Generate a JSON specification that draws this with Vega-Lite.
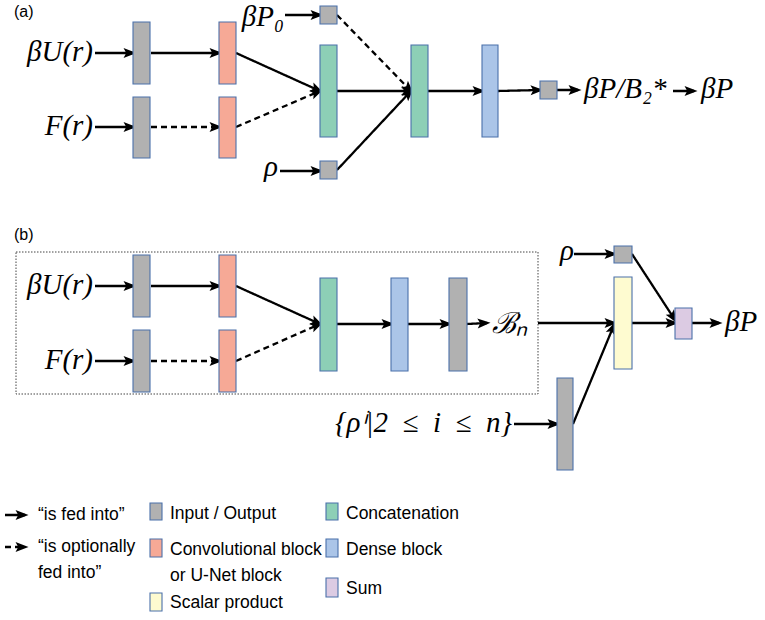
{
  "$schema": "https://vega.github.io/schema/vega-lite/v6.json",
  "width": 765,
  "height": 620,
  "padding": 0,
  "autosize": {"type": "fit", "contains": "padding"},
  "background": "white",
  "config": {"view": {"stroke": null}},
  "datasets": {
    "frame": [{"x": 16, "x2": 538, "y": 252, "y2": 394}],
    "boxes": [
      {"panel": "a", "x": 133, "x2": 150, "y": 22, "y2": 84, "kind": "io"},
      {"panel": "a", "x": 133, "x2": 150, "y": 97, "y2": 158, "kind": "io"},
      {"panel": "a", "x": 219, "x2": 236, "y": 22, "y2": 84, "kind": "conv"},
      {"panel": "a", "x": 219, "x2": 236, "y": 97, "y2": 158, "kind": "conv"},
      {"panel": "a", "x": 320, "x2": 337, "y": 6, "y2": 24, "kind": "io"},
      {"panel": "a", "x": 320, "x2": 337, "y": 45, "y2": 137, "kind": "concat"},
      {"panel": "a", "x": 320, "x2": 337, "y": 161, "y2": 179, "kind": "io"},
      {"panel": "a", "x": 411, "x2": 428, "y": 45, "y2": 137, "kind": "concat"},
      {"panel": "a", "x": 482, "x2": 498, "y": 45, "y2": 137, "kind": "dense"},
      {"panel": "a", "x": 540, "x2": 557, "y": 81, "y2": 99, "kind": "io"},
      {"panel": "b", "x": 133, "x2": 150, "y": 255, "y2": 317, "kind": "io"},
      {"panel": "b", "x": 133, "x2": 150, "y": 330, "y2": 392, "kind": "io"},
      {"panel": "b", "x": 219, "x2": 236, "y": 255, "y2": 317, "kind": "conv"},
      {"panel": "b", "x": 219, "x2": 236, "y": 330, "y2": 392, "kind": "conv"},
      {"panel": "b", "x": 320, "x2": 337, "y": 278, "y2": 371, "kind": "concat"},
      {"panel": "b", "x": 391, "x2": 408, "y": 278, "y2": 371, "kind": "dense"},
      {"panel": "b", "x": 449, "x2": 467, "y": 278, "y2": 371, "kind": "io"},
      {"panel": "b", "x": 614, "x2": 632, "y": 246, "y2": 263, "kind": "io"},
      {"panel": "b", "x": 614, "x2": 632, "y": 277, "y2": 369, "kind": "scalar"},
      {"panel": "b", "x": 675, "x2": 692, "y": 308, "y2": 339, "kind": "sum"},
      {"panel": "b", "x": 557, "x2": 573, "y": 378, "y2": 470, "kind": "io"},
      {"panel": "key", "x": 150, "x2": 162, "y": 503, "y2": 520, "kind": "io"},
      {"panel": "key", "x": 150, "x2": 162, "y": 539, "y2": 557, "kind": "conv"},
      {"panel": "key", "x": 150, "x2": 162, "y": 593, "y2": 611, "kind": "scalar"},
      {"panel": "key", "x": 326, "x2": 338, "y": 503, "y2": 520, "kind": "concat"},
      {"panel": "key", "x": 326, "x2": 338, "y": 539, "y2": 557, "kind": "dense"},
      {"panel": "key", "x": 326, "x2": 338, "y": 578, "y2": 597, "kind": "sum"}
    ],
    "arrows": [
      {"x": 95, "y": 53, "x2": 133, "y2": 53, "style": "solid"},
      {"x": 151, "y": 53, "x2": 219, "y2": 53, "style": "solid"},
      {"x": 95, "y": 127, "x2": 133, "y2": 127, "style": "solid"},
      {"x": 151, "y": 127, "x2": 219, "y2": 127, "style": "dashed"},
      {"x": 236, "y": 53, "x2": 320, "y2": 91, "style": "solid"},
      {"x": 236, "y": 127, "x2": 320, "y2": 91, "style": "dashed"},
      {"x": 285, "y": 15, "x2": 320, "y2": 15, "style": "solid"},
      {"x": 280, "y": 171, "x2": 320, "y2": 171, "style": "solid"},
      {"x": 337, "y": 15, "x2": 411, "y2": 91, "style": "dashed"},
      {"x": 337, "y": 91, "x2": 411, "y2": 91, "style": "solid"},
      {"x": 337, "y": 170, "x2": 411, "y2": 91, "style": "solid"},
      {"x": 428, "y": 91, "x2": 482, "y2": 91, "style": "solid"},
      {"x": 498, "y": 91, "x2": 540, "y2": 90, "style": "solid"},
      {"x": 557, "y": 90, "x2": 578, "y2": 90, "style": "solid"},
      {"x": 673, "y": 91, "x2": 694, "y2": 91, "style": "solid"},
      {"x": 95, "y": 286, "x2": 133, "y2": 286, "style": "solid"},
      {"x": 151, "y": 286, "x2": 219, "y2": 286, "style": "solid"},
      {"x": 95, "y": 361, "x2": 133, "y2": 361, "style": "solid"},
      {"x": 151, "y": 361, "x2": 219, "y2": 361, "style": "dashed"},
      {"x": 236, "y": 286, "x2": 320, "y2": 324, "style": "solid"},
      {"x": 236, "y": 361, "x2": 320, "y2": 324, "style": "dashed"},
      {"x": 337, "y": 324, "x2": 391, "y2": 324, "style": "solid"},
      {"x": 408, "y": 324, "x2": 449, "y2": 324, "style": "solid"},
      {"x": 467, "y": 324, "x2": 487, "y2": 323, "style": "solid"},
      {"x": 538, "y": 323, "x2": 614, "y2": 323, "style": "solid"},
      {"x": 574, "y": 254, "x2": 614, "y2": 254, "style": "solid"},
      {"x": 632, "y": 254, "x2": 675, "y2": 320, "style": "solid"},
      {"x": 632, "y": 323, "x2": 675, "y2": 323, "style": "solid"},
      {"x": 692, "y": 323, "x2": 719, "y2": 323, "style": "solid"},
      {"x": 514, "y": 424, "x2": 557, "y2": 424, "style": "solid"},
      {"x": 573, "y": 424, "x2": 614, "y2": 325, "style": "solid"},
      {"x": 5, "y": 515, "x2": 25, "y2": 515, "style": "solid"},
      {"x": 5, "y": 547, "x2": 25, "y2": 547, "style": "dashed"}
    ],
    "math": [
      {"text": "βU(r)", "x": 93, "y": 52, "side": "right"},
      {"text": "F(r)", "x": 93, "y": 126, "side": "right"},
      {"text": "βP₀", "x": 284, "y": 17, "side": "right"},
      {"text": "ρ", "x": 278, "y": 167, "side": "right"},
      {"text": "βP/B₂*", "x": 584, "y": 89, "side": "left"},
      {"text": "βP", "x": 701, "y": 89, "side": "left"},
      {"text": "βU(r)", "x": 93, "y": 285, "side": "right"},
      {"text": "F(r)", "x": 93, "y": 360, "side": "right"},
      {"text": "ℬₙ", "x": 492, "y": 324, "side": "left"},
      {"text": "ρ", "x": 574, "y": 251, "side": "right"},
      {"text": "βP", "x": 725, "y": 322, "side": "left"},
      {"text": "{ρⁱ|2\u2002≤\u2002i\u2002≤\u2002n}", "x": 512, "y": 423, "side": "right"}
    ],
    "tags": [
      {"text": "(a)", "x": 14, "y": 12},
      {"text": "(b)", "x": 14, "y": 235}
    ],
    "key": [
      {"text": "“is fed into”", "x": 38, "y": 515},
      {"text": "“is optionally", "x": 38, "y": 547},
      {"text": "fed into”", "x": 38, "y": 573},
      {"text": "Input / Output", "x": 170, "y": 514},
      {"text": "Convolutional block", "x": 170, "y": 550},
      {"text": "or U-Net block", "x": 170, "y": 576},
      {"text": "Scalar product", "x": 170, "y": 603},
      {"text": "Concatenation", "x": 346, "y": 514},
      {"text": "Dense block", "x": 346, "y": 550},
      {"text": "Sum", "x": 346, "y": 589}
    ]
  },
  "layer": [
    {
      "data": {"name": "frame"},
      "mark": {"type": "rect", "fill": null, "stroke": "#444444", "strokeWidth": 1, "strokeDash": [1.5, 1.5]},
      "encoding": {
        "x": {"field": "x", "type": "quantitative", "axis": null, "scale": {"domain": [0, 765], "nice": false, "zero": false}},
        "x2": {"field": "x2"},
        "y": {"field": "y", "type": "quantitative", "axis": null, "scale": {"domain": [0, 620], "nice": false, "zero": false, "reverse": true}},
        "y2": {"field": "y2"}
      }
    },
    {
      "data": {"name": "arrows"},
      "mark": {"type": "rule", "color": "black", "strokeWidth": 2.3},
      "encoding": {
        "x": {"field": "x", "type": "quantitative"},
        "x2": {"field": "x2"},
        "y": {"field": "y", "type": "quantitative"},
        "y2": {"field": "y2"},
        "strokeDash": {"field": "style", "type": "nominal", "legend": null, "scale": {"domain": ["solid", "dashed"], "range": [[1, 0], [6, 4]]}}
      }
    },
    {
      "data": {"name": "arrows"},
      "transform": [
        {"calculate": "atan2(datum.y2 - datum.y, datum.x2 - datum.x) * 180 / PI", "as": "heading"}
      ],
      "mark": {"type": "point", "filled": true, "color": "black", "opacity": 1, "strokeWidth": 0, "size": 676, "shape": "M0.27,0L-0.73,-0.38L-0.52,0L-0.73,0.38Z"},
      "encoding": {
        "x": {"field": "x2", "type": "quantitative"},
        "y": {"field": "y2", "type": "quantitative"},
        "angle": {"field": "heading", "type": "quantitative", "scale": null}
      }
    },
    {
      "data": {"name": "boxes"},
      "mark": {"type": "rect", "stroke": "#4a70aa", "strokeWidth": 1.1},
      "encoding": {
        "x": {"field": "x", "type": "quantitative"},
        "x2": {"field": "x2"},
        "y": {"field": "y", "type": "quantitative"},
        "y2": {"field": "y2"},
        "fill": {"field": "kind", "type": "nominal", "legend": null, "scale": {"domain": ["io", "conv", "concat", "dense", "scalar", "sum"], "range": ["#b1b1b1", "#f6a996", "#8dcfb6", "#abc5e8", "#fefbd0", "#dccbe3"]}}
      }
    },
    {
      "data": {"name": "math"},
      "transform": [{"filter": "datum.side === 'right'"}],
      "mark": {"type": "text", "font": "Liberation Serif", "fontStyle": "italic", "fontSize": 29, "align": "right", "baseline": "middle", "color": "black"},
      "encoding": {
        "x": {"field": "x", "type": "quantitative"},
        "y": {"field": "y", "type": "quantitative"},
        "text": {"field": "text"}
      }
    },
    {
      "data": {"name": "math"},
      "transform": [{"filter": "datum.side === 'left'"}],
      "mark": {"type": "text", "font": "Liberation Serif", "fontStyle": "italic", "fontSize": 29, "align": "left", "baseline": "middle", "color": "black"},
      "encoding": {
        "x": {"field": "x", "type": "quantitative"},
        "y": {"field": "y", "type": "quantitative"},
        "text": {"field": "text"}
      }
    },
    {
      "data": {"name": "tags"},
      "mark": {"type": "text", "font": "Liberation Sans", "fontSize": 16, "align": "left", "baseline": "middle", "color": "black"},
      "encoding": {
        "x": {"field": "x", "type": "quantitative"},
        "y": {"field": "y", "type": "quantitative"},
        "text": {"field": "text"}
      }
    },
    {
      "data": {"name": "key"},
      "mark": {"type": "text", "font": "Liberation Sans", "fontSize": 17.5, "align": "left", "baseline": "middle", "color": "black"},
      "encoding": {
        "x": {"field": "x", "type": "quantitative"},
        "y": {"field": "y", "type": "quantitative"},
        "text": {"field": "text"}
      }
    }
  ]
}
